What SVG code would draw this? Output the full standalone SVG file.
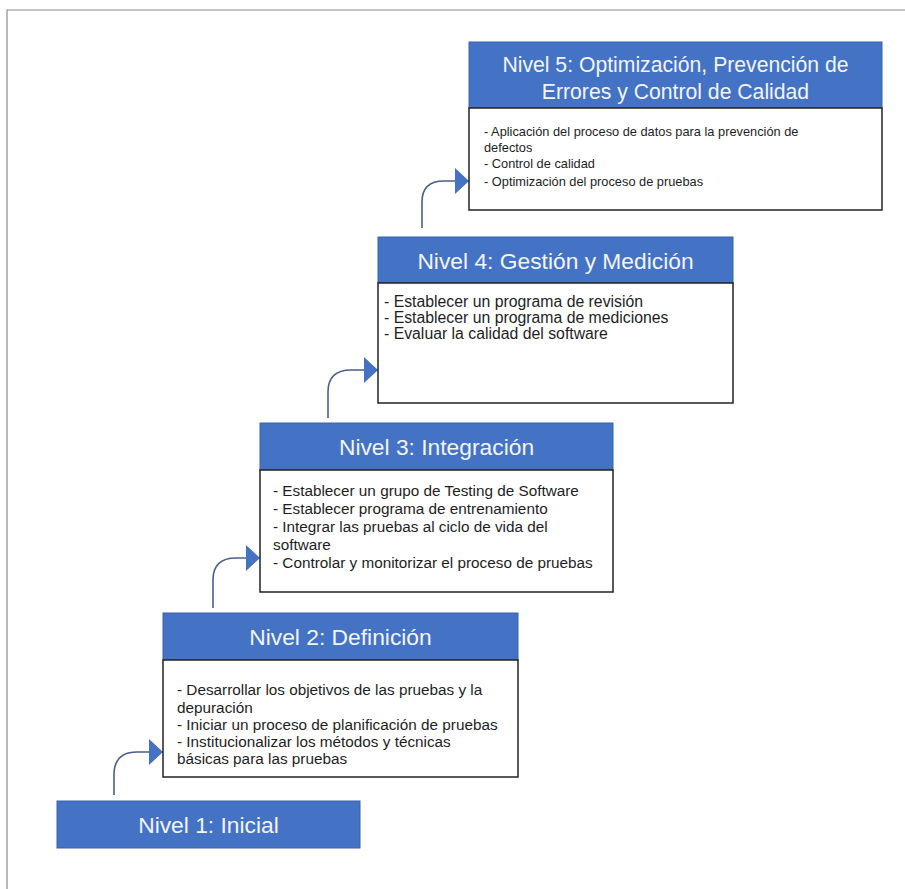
<svg xmlns="http://www.w3.org/2000/svg" width="905" height="889" viewBox="0 0 905 889">
  <style>
    .hdr { fill: #4472c4; stroke: #3a63ad; stroke-width: 1; }
    .body { fill: #ffffff; stroke: #222222; stroke-width: 1.5; }
    .title { font-family: "Liberation Sans", Arial, sans-serif; font-size: 22.8px; fill: #f2f5fb; text-anchor: middle; }
    .title5 { font-family: "Liberation Sans", Arial, sans-serif; font-size: 21.2px; fill: #f2f5fb; text-anchor: middle; }
    .item { font-family: "Liberation Sans", Arial, sans-serif; font-size: 15.3px; fill: #1e1e1e; }
    .item4 { font-family: "Liberation Sans", Arial, sans-serif; font-size: 15.8px; fill: #1e1e1e; }
    .item5 { font-family: "Liberation Sans", Arial, sans-serif; font-size: 12.8px; fill: #1e1e1e; }
    .conn { fill: none; stroke: #4a5f8e; stroke-width: 1.6; }
  </style>
  <defs>
    <marker id="arrow" viewBox="0 0 14 26" refX="14" refY="13" markerWidth="14" markerHeight="26" markerUnits="userSpaceOnUse" orient="auto">
      <path d="M0,0 L14,13 L0,26 Z" fill="#4472c4"/>
    </marker>
  </defs>

  <!-- page frame -->
  <path d="M7,889 V10 H905" fill="none" stroke="#8c8c8c" stroke-width="1.2"/>

  <!-- connectors between levels -->
  <g id="connectors">
    <path class="conn" d="M114,795 V775 Q114,752 137,752 H163" marker-end="url(#arrow)"/>
    <path class="conn" d="M213,608 V580 Q213,558 236,558 H260" marker-end="url(#arrow)"/>
    <path class="conn" d="M328,418 V392 Q328,370 351,370 H378" marker-end="url(#arrow)"/>
    <path class="conn" d="M422,228 V202 Q422,181 444,181 H469" marker-end="url(#arrow)"/>
  </g>

  <!-- Level 1 -->
  <g id="nivel1">
    <rect class="hdr" x="57" y="801" width="303" height="47"/>
    <text class="title" x="208.5" y="833">Nivel 1: Inicial</text>
  </g>

  <!-- Level 2 -->
  <g id="nivel2">
    <rect class="hdr" x="163" y="613" width="355" height="47"/>
    <text class="title" x="340.5" y="645">Nivel 2: Definición</text>
    <rect class="body" x="163" y="660" width="355" height="117"/>
    <text class="item" x="177" y="695">- Desarrollar los objetivos de las pruebas y la</text>
    <text class="item" x="177" y="713">depuración</text>
    <text class="item" x="177" y="730">- Iniciar un proceso de planificación de pruebas</text>
    <text class="item" x="177" y="747">- Institucionalizar los métodos y técnicas</text>
    <text class="item" x="177" y="764">básicas para las pruebas</text>
  </g>

  <!-- Level 3 -->
  <g id="nivel3">
    <rect class="hdr" x="260" y="423" width="353" height="47"/>
    <text class="title" x="436.5" y="455">Nivel 3: Integración</text>
    <rect class="body" x="260" y="470" width="353" height="122"/>
    <text class="item" x="273" y="496">- Establecer un grupo de Testing de Software</text>
    <text class="item" x="273" y="514">- Establecer programa de entrenamiento</text>
    <text class="item" x="273" y="532">- Integrar las pruebas al ciclo de vida del</text>
    <text class="item" x="273" y="550">software</text>
    <text class="item" x="273" y="568">- Controlar y monitorizar el proceso de pruebas</text>
  </g>

  <!-- Level 4 -->
  <g id="nivel4">
    <rect class="hdr" x="378" y="237" width="355" height="46"/>
    <text class="title" x="555.5" y="269">Nivel 4: Gestión y Medición</text>
    <rect class="body" x="378" y="283" width="355" height="120"/>
    <text class="item4" x="384" y="307">- Establecer un programa de revisión</text>
    <text class="item4" x="384" y="323">- Establecer un programa de mediciones</text>
    <text class="item4" x="384" y="339">- Evaluar la calidad del software</text>
  </g>

  <!-- Level 5 -->
  <g id="nivel5">
    <rect class="hdr" x="469" y="42" width="413" height="66"/>
    <text class="title5" x="675.5" y="72">Nivel 5: Optimización, Prevención de</text>
    <text class="title5" x="675.5" y="99">Errores y Control de Calidad</text>
    <rect class="body" x="469" y="108" width="413" height="102"/>
    <text class="item5" x="484" y="136">- Aplicación del proceso de datos para la prevención de</text>
    <text class="item5" x="484" y="152">defectos</text>
    <text class="item5" x="484" y="168">- Control de calidad</text>
    <text class="item5" x="484" y="186">- Optimización del proceso de pruebas</text>
  </g>
</svg>
